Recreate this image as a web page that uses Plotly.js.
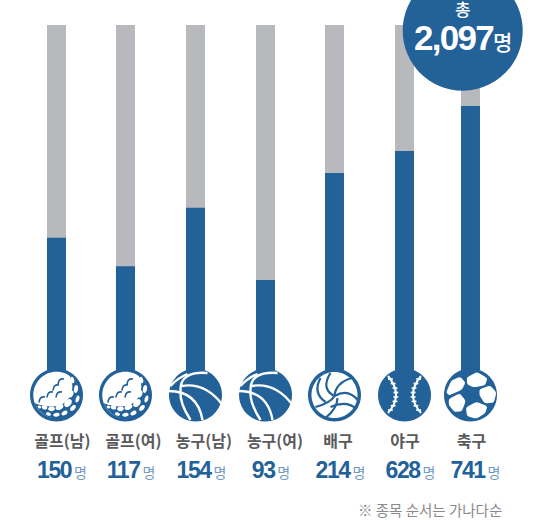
<!DOCTYPE html>
<html><head><meta charset="utf-8">
<script src="https://cdn.plot.ly/plotly-3.0.1.min.js"></script>
<style>html,body{margin:0;padding:0;background:#fff}</style></head>
<body><div id="chart" style="width:541px;height:520px"></div>
<script>
const categories=['골프(남)','골프(여)','농구(남)','농구(여)','배구','야구','축구'];
const counts=[150,117,154,93,214,628,741];
const fillShare=[38.3,30.1,47.0,26.1,57.1,63.5,76.5];
const trackFull=[100,100,100,100,100,100,100];
const slots=[0,0.991,1.997,3.003,3.994,5,5.948];
const ballKinds=['golf','golf','basket','basket','volley','base','soccer'];
const totalText='2,097';
const labelNudgePx=[6,8,8.5,9.5,3.5,0.5,1];
const countNudgePx=[5.5,5.5,6,5.5,6,6,5];

const BLUE='#236199',GRAY='#b8b9bd',WHITE='#ffffff';
const W=541,H=520,X0=56.5,DX=69.6,Y0=370,DY=3.45;
const yOf=px=>(Y0-px)/DY;
const ballY=yOf(395);

const P=(x,y)=>`${(+x).toFixed(2)},${(-y).toFixed(2)}`;
function ell(cx,cy,rx,ry,rot=0){
  const k=0.5523,c=Math.cos(rot*Math.PI/180),s=Math.sin(rot*Math.PI/180);
  const t=(u,v)=>P(cx+u*c-v*s,cy+u*s+v*c);
  return `M${t(rx,0)}C${t(rx,k*ry)} ${t(k*rx,ry)} ${t(0,ry)}C${t(-k*rx,ry)} ${t(-rx,k*ry)} ${t(-rx,0)}C${t(-rx,-k*ry)} ${t(-k*rx,-ry)} ${t(0,-ry)}C${t(k*rx,-ry)} ${t(rx,-k*ry)} ${t(rx,0)}Z`;
}
function blob(z){ // polygon with softened corners, points from a 3x crop centred on 87,87
  const pts=z.map(p=>[(p[0]-87)/3,(p[1]-87)/3]);
  const lerp=(a,b,t)=>[a[0]+(b[0]-a[0])*t,a[1]+(b[1]-a[1])*t];
  const n=pts.length;let d='';
  pts.forEach((p,i)=>{
    const prev=pts[(i+n-1)%n],next=pts[(i+1)%n];
    const a=lerp(p,prev,0.22),b=lerp(p,next,0.22);
    d+=(i?'L':'M')+P(...a)+`Q${P(...p)} ${P(...b)}`;
  });
  return d+'Z';
}
const curve=(a,b,c)=>`M${P(a[0],a[1])}Q${P(b[0],b[1])} ${P(c[0],c[1])}`;

function shapesFor(kind,slot){
  const out=[];
  const add=(path,fill,line,lw)=>out.push({type:'path',layer:'above',xref:'x',yref:'y',xsizemode:'pixel',ysizemode:'pixel',
    xanchor:slot,yanchor:ballY,path,fillcolor:fill||'rgba(0,0,0,0)',line:{color:line||'rgba(0,0,0,0)',width:lw||0}});
  add(ell(0,0,26.5,26.5),BLUE);
  if(kind==='golf'){
    add(ell(0,0,23.2,23.2),WHITE);
    add('M'+P(13,-20)+'C'+P(19,-8)+' '+P(15,4)+' '+P(6,9)+'C'+P(-3,13)+' '+P(-13,12)+' '+P(-22,8)
       +'C'+P(-15,24)+' '+P(4,28)+' '+P(15,21)+'C'+P(27,12)+' '+P(28,-8)+' '+P(13,-20)+'Z',BLUE);
    [[16,-15,1.7,3.4,-15],[19.5,-6,2.1,4,8],[21,4,1.8,3.6,18],[14.5,-1,2.3,3.8,25],[11.5,8,3.2,4.6,40],[16.5,13,2.1,3.5,45],
     [3,12,4.2,2.7,-25],[8,18,3.3,2.1,-28],[-5,13.8,3.4,2.4,-5],[0,19.8,3.3,1.9,-8],[-12,12.5,2.9,2,15],[-8,19,2.6,1.7,18],[-17,12,1.8,1.4,25]]
      .forEach(e=>add(ell(...e),WHITE));
    [[5,-13],[0,-7],[-6,0],[-14,5],[3,0]].forEach(c=>
      add(curve([c[0]-3.5,c[1]+2.5],[c[0]-3,c[1]-4],[c[0]+2.5,c[1]-3]),null,BLUE,1.7));
  }
  if(kind==='basket'){
    [[[-8,-21],[-18,-17],[-25,-9]],[[12,-22],[-16,-24],[-15,-4]],[[-15,-4],[-16,8],[-5,25]],
     [[-27,-4],[2,-4],[7,25]],[[-14,-9],[10,-13],[27,10]],[[27,8],[24,17],[15,25]]]
      .forEach(c=>add(curve(...c),null,WHITE,2.4));
  }
  if(kind==='volley'){
    add(ell(0,0,23,23),WHITE);
    [[[-4,-22],[-14,-6],[0,1]],[[-14,-17],[-22,-2],[-9,7]],[[0,1],[1,-12],[17,-17]],[[0,1],[14,-7],[24,6]],
     [[0,1],[-4,8],[-19,12]],[[3,3],[3,13],[-9,23]],[[-4,12],[12,5],[22,14]]]
      .forEach(c=>add(curve(...c),null,BLUE,2.2));
  }
  if(kind==='base'){
    [-1,1].forEach(sign=>{
      const a=[sign*16.5,-19],b=[sign*0.5,0],c=[sign*16.5,18];
      add(curve(a,b,c),null,WHITE,2);
      [0.08,0.2,0.32,0.44,0.56,0.68,0.8,0.92].forEach(t=>{
        const x=(1-t)*(1-t)*a[0]+2*t*(1-t)*b[0]+t*t*c[0],y=(1-t)*(1-t)*a[1]+2*t*(1-t)*b[1]+t*t*c[1];
        add(`M${P(x-2.4,y)}L${P(x+2.4,y)}`,null,WHITE,1.7);
      });
    });
  }
  if(kind==='soccer'){
    [[[76,34],[106,18],[138,36],[131,58],[96,64],[77,55]],
     [[114,70],[146,58],[165,80],[157,110],[129,112],[114,88]],
     [[73,125],[105,107],[138,121],[131,142],[105,158],[77,151]],
     [[22,99],[55,82],[73,105],[61,136],[39,138],[22,117]],
     [[14,80],[29,44],[56,32],[72,50],[61,71],[24,88]]]
     .forEach(z=>add(blob(z),WHITE));
  }
  return out;
}
const ballShapes=ballKinds.flatMap((k,i)=>shapesFor(k,slots[i]));
const badgeX=(462.7-X0)/DX;
const totalBadge={type:'path',layer:'above',xref:'x',yref:'y',xsizemode:'pixel',ysizemode:'pixel',
  xanchor:badgeX,yanchor:yOf(30.7),path:ell(0,0,60,60),fillcolor:BLUE,line:{width:0}};

const traces=[
 {type:'bar',x:slots,y:trackFull,width:19/DX,marker:{color:GRAY},hoverinfo:'skip'},
 {type:'bar',x:slots,y:fillShare,width:19/DX,marker:{color:BLUE},hoverinfo:'skip'},
 {type:'scatter',mode:'text',x:slots.map((s,i)=>s+labelNudgePx[i]/DX),y:slots.map(()=>yOf(443)),text:categories,textposition:'middle center',cliponaxis:false,
  textfont:{family:'"Noto Sans CJK KR"',size:16,color:'#5a5a5c',weight:700},hoverinfo:'skip'},
 {type:'scatter',mode:'text',x:slots.map((s,i)=>s+countNudgePx[i]/DX),y:slots.map(()=>yOf(472)),
  text:counts.map(n=>`<span style="letter-spacing:-1.4px">${n}</span><span style="font-size:14px;font-weight:400;font-family:'Noto Sans CJK KR';fill:#6f97c3;color:#6f97c3">&#8201;명</span>`),
  textposition:'middle center',cliponaxis:false,
  textfont:{family:'"Liberation Sans"',size:23,color:BLUE,weight:700},hoverinfo:'skip'}
];
const layout={width:W,height:H,margin:{l:0,r:0,t:0,b:0},paper_bgcolor:'#fff',plot_bgcolor:'#fff',barmode:'overlay',showlegend:false,
 xaxis:{range:[-X0/DX,(W-X0)/DX],visible:false,fixedrange:true},
 yaxis:{range:[yOf(H),yOf(0)],visible:false,fixedrange:true},
 shapes:[...ballShapes,totalBadge],
 annotations:[
  {xref:'x',yref:'y',x:badgeX,y:yOf(8.5),text:'총',showarrow:false,font:{family:'"Noto Sans CJK KR"',size:17,color:'#fff',weight:500}},
  {xref:'x',yref:'y',x:badgeX,y:yOf(37),text:`<span style="letter-spacing:-1.7px">${totalText}</span><span style="font-size:21px;font-family:'Noto Sans CJK KR';font-weight:500">명</span>`,showarrow:false,
   font:{family:'"Liberation Sans"',size:35,color:'#fff',weight:700}},
  {xref:'x',yref:'y',x:(503.5-X0)/DX,xanchor:'right',y:yOf(509),text:'※ 종목 순서는 가나다순',showarrow:false,
   font:{family:'"Noto Sans CJK KR"',size:14.5,color:'#8a8a8c',weight:400}}
 ]};
Plotly.newPlot('chart',traces,layout,{displayModeBar:false,staticPlot:true});
</script></body></html>
